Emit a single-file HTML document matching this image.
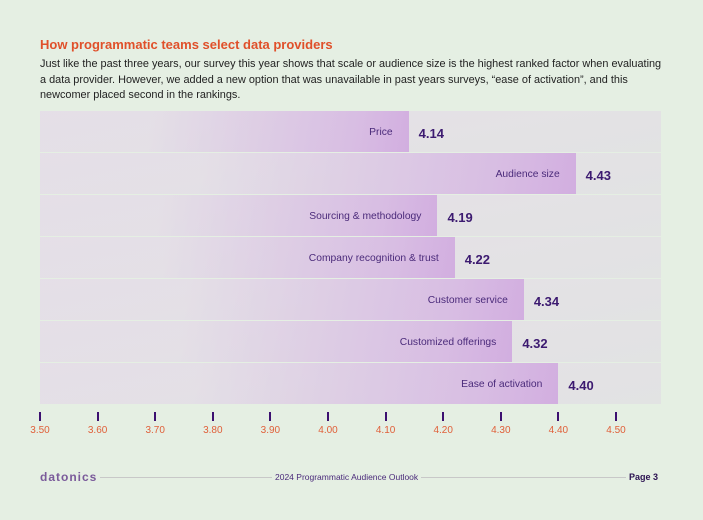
<!DOCTYPE html>
<html><head><meta charset="utf-8"><style>
body{margin:0;width:703px;height:520px;background:#e5efe3;font-family:"Liberation Sans",sans-serif;position:relative;overflow:hidden}
.t{position:absolute;left:40px;top:37px;color:#e0502a;font-weight:bold;font-size:13px}
.p{position:absolute;left:40px;top:57px;width:625px;color:#222;font-size:10.9px;line-height:15.5px}
.row{position:absolute;left:40px;width:621px;height:41px;background:linear-gradient(170deg,#e6dfe8,#e2e3e3)}
.bar{position:absolute;left:0;top:0;height:41px;background:linear-gradient(100deg,rgba(226,222,230,0.3) 30%,#d8bde3 85%,#d2aee0)}
.lab{position:absolute;right:16px;top:16px;font-size:10.3px;color:#4a2a7a;white-space:nowrap}
.val{position:absolute;top:15px;font-size:13px;font-weight:bold;color:#3c1a70}
.tick{position:absolute;top:412px;width:2px;height:9px;background:#3c1070}
.tl{position:absolute;top:425px;width:40px;margin-left:-20px;text-align:center;font-size:10px;color:#e0603a}
.foot{position:absolute;top:472px;font-size:8.5px;color:#4a2a7a}
</style></head><body>
<div class="t">How programmatic teams select data providers</div>
<div class="p">Just like the past three years, our survey this year shows that scale or audience size is the highest ranked factor when evaluating a data provider. However, we added a new option that was unavailable in past years surveys, “ease of activation”, and this newcomer placed second in the rankings.</div>
<div id="chart"></div>
<div style="position:absolute;left:100px;right:45px;top:477px;height:1px;background:#c8c8c8"></div>
<div class="foot" style="left:40px;top:470px;font-size:12px;font-weight:bold;color:#7a5a9a;letter-spacing:1px;background:#e5efe3;padding-right:3px">datonics</div>
<div class="foot" style="left:272px;background:#e5efe3;padding:0 3px">2024 Programmatic Audience Outlook</div>
<div class="foot" style="left:626px;font-size:9px;font-weight:bold;color:#2a1050;background:#e5efe3;padding-left:3px;width:40px">Page 3</div>
<script>
const categories=["Price","Audience size","Sourcing & methodology","Company recognition & trust","Customer service","Customized offerings","Ease of activation"];
const values=[4.14,4.43,4.19,4.22,4.34,4.32,4.40];
const ticks=[3.5,3.6,3.7,3.8,3.9,4.0,4.1,4.2,4.3,4.4,4.5];
const x0=40,x1=616,vmin=3.5,vmax=4.5;
function xs(v){return x0+(v-vmin)/(vmax-vmin)*(x1-x0);}
const c=document.getElementById('chart');
categories.forEach((cat,i)=>{
 const r=document.createElement('div');r.className='row';r.style.top=(111+i*42)+'px';
 
 
 const b=document.createElement('div');b.className='bar';b.style.width=(xs(values[i])-x0)+'px';
 
 
 const l=document.createElement('div');l.className='lab';l.textContent=cat;
 
 
 b.appendChild(l);r.appendChild(b);
 const v=document.createElement('div');v.className='val';v.style.left=(xs(values[i])-x0+10)+'px';v.textContent=values[i].toFixed(2);
 
 
 r.appendChild(v);c.appendChild(r);
});
ticks.forEach(t=>{
 const k=document.createElement('div');k.className='tick';k.style.left=(xs(t)-1)+'px';
 
 
 c.appendChild(k);
 const l=document.createElement('div');l.className='tl';l.style.left=xs(t)+'px';l.textContent=t.toFixed(2);
 
 
 c.appendChild(l);
});
</script>
</body></html>
